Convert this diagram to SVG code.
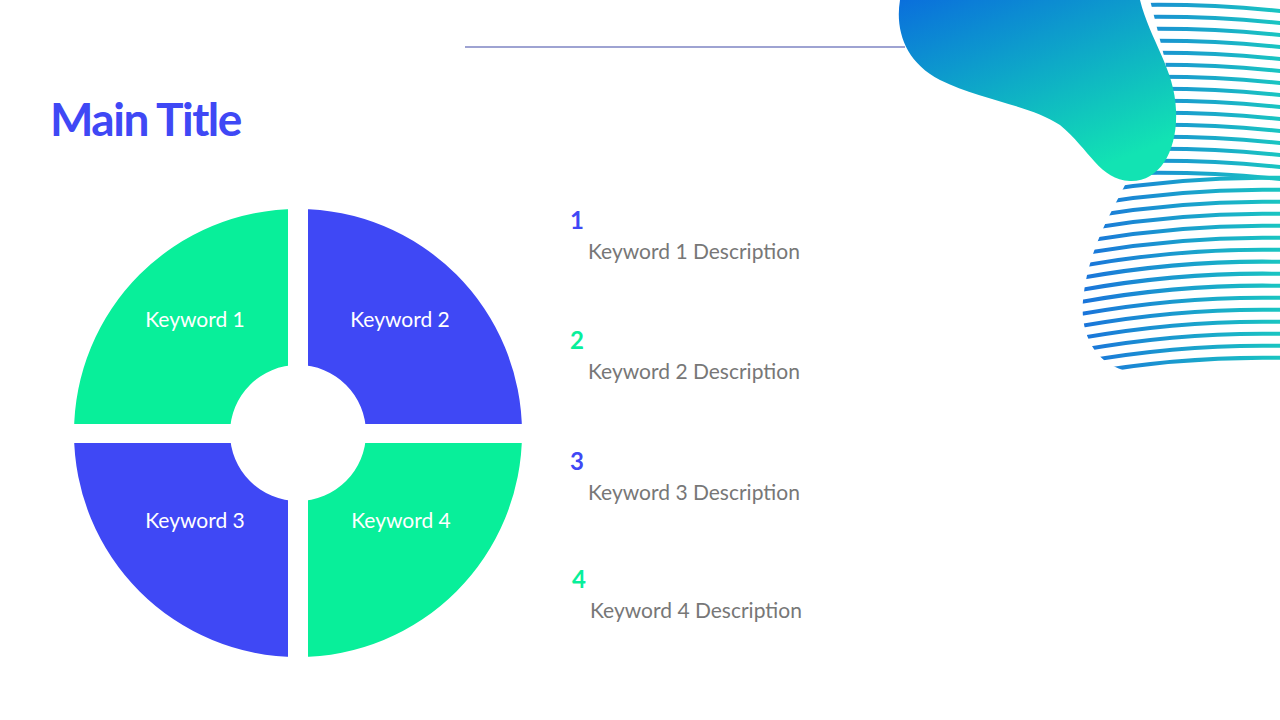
<svg xmlns="http://www.w3.org/2000/svg" width="1280" height="720" viewBox="0 0 1280 720">
<defs>
<linearGradient id="gb" x1="0" y1="0" x2="0.6" y2="1"><stop offset="0" stop-color="#0a6fdc"/><stop offset="1" stop-color="#12e3b3"/></linearGradient>
<linearGradient id="gs" x1="0" y1="0" x2="1" y2="0"><stop offset="0" stop-color="#1a6fdc"/><stop offset="1" stop-color="#19c9c0"/></linearGradient>
<clipPath id="cs"><path d="M1150,0 L1280,0 L1280,360 C1250,372 1180,378 1130,372 C1095,365 1080,335 1083,300 C1088,250 1110,215 1125,185 C1160,150 1175,120 1165,60 Z"/></clipPath>
<style>
.k{font-family:"Lato","Liberation Sans",sans-serif;font-size:21px;fill:#fff;text-anchor:middle}
.d{font-family:"Lato","Liberation Sans",sans-serif;font-size:21px;fill:#777}
.n{font-family:"Lato","Liberation Sans",sans-serif;font-size:24px;font-weight:bold}
</style>
</defs>
<rect width="1280" height="720" fill="#fff"/>
<g id="decor">
<g clip-path="url(#cs)" stroke="url(#gs)" stroke-width="4" fill="none">
<path id="st" d="M1070,8 Q1180,0 1290,12"/>
<use href="#st" y="12"/><use href="#st" y="24"/><use href="#st" y="36"/><use href="#st" y="48"/><use href="#st" y="60"/><use href="#st" y="72"/><use href="#st" y="84"/><use href="#st" y="96"/><use href="#st" y="108"/><use href="#st" y="120"/><use href="#st" y="132"/><use href="#st" y="144"/><use href="#st" y="156"/><use href="#st" y="168"/>
<path id="s2" d="M1070,196 Q1180,175 1290,178"/>
<use href="#s2" y="12"/><use href="#s2" y="24"/><use href="#s2" y="36"/><use href="#s2" y="48"/><use href="#s2" y="60"/><use href="#s2" y="72"/><use href="#s2" y="84"/><use href="#s2" y="96"/><use href="#s2" y="108"/><use href="#s2" y="120"/><use href="#s2" y="132"/><use href="#s2" y="144"/><use href="#s2" y="156"/><use href="#s2" y="168"/><use href="#s2" y="180"/>
</g>
<path d="M900,0 L1140,0 C1150,40 1175,70 1176,110 C1178,150 1160,182 1130,181 C1100,180 1090,150 1060,125 C1030,105 980,100 940,80 C905,62 895,30 900,0 Z" fill="url(#gb)"/>
</g>
<line x1="465" y1="47" x2="905" y2="47" stroke="#3f48a5" stroke-width="1.2"/>
<text x="50" y="136" font-family="Lato,'Liberation Sans',sans-serif" font-size="46" font-weight="bold" fill="#3f48f5" letter-spacing="-1.5">Main Title</text>
<g id="q1"><path d="M298,209 A224,224 0 0 0 74,433 L230,433 A68,68 0 0 1 298,365 Z" fill="#08ef9a"/><text class="k" x="195" y="327">Keyword 1</text></g>
<g id="q2"><path d="M298,209 A224,224 0 0 1 522,433 L366,433 A68,68 0 0 0 298,365 Z" fill="#3f48f5"/><text class="k" x="400" y="327">Keyword 2</text></g>
<g id="q3"><path d="M298,657 A224,224 0 0 1 74,433 L230,433 A68,68 0 0 0 298,501 Z" fill="#3f48f5"/><text class="k" x="195" y="528">Keyword 3</text></g>
<g id="q4"><path d="M298,657 A224,224 0 0 0 522,433 L366,433 A68,68 0 0 1 298,501 Z" fill="#08ef9a"/><text class="k" x="401" y="528">Keyword 4</text></g>
<rect x="288" y="200" width="20" height="470" fill="#fff"/>
<rect x="60" y="424" width="475" height="19" fill="#fff"/>
<g id="list">
<text class="n" x="570" y="229" fill="#3f48f5">1</text><text class="d" x="588" y="259">Keyword 1 Description</text>
<text class="n" x="570" y="349" fill="#08ef9a">2</text><text class="d" x="588" y="379">Keyword 2 Description</text>
<text class="n" x="570" y="470" fill="#3f48f5">3</text><text class="d" x="588" y="500">Keyword 3 Description</text>
<text class="n" x="572" y="588" fill="#08ef9a">4</text><text class="d" x="590" y="618">Keyword 4 Description</text>
</g>
</svg>
